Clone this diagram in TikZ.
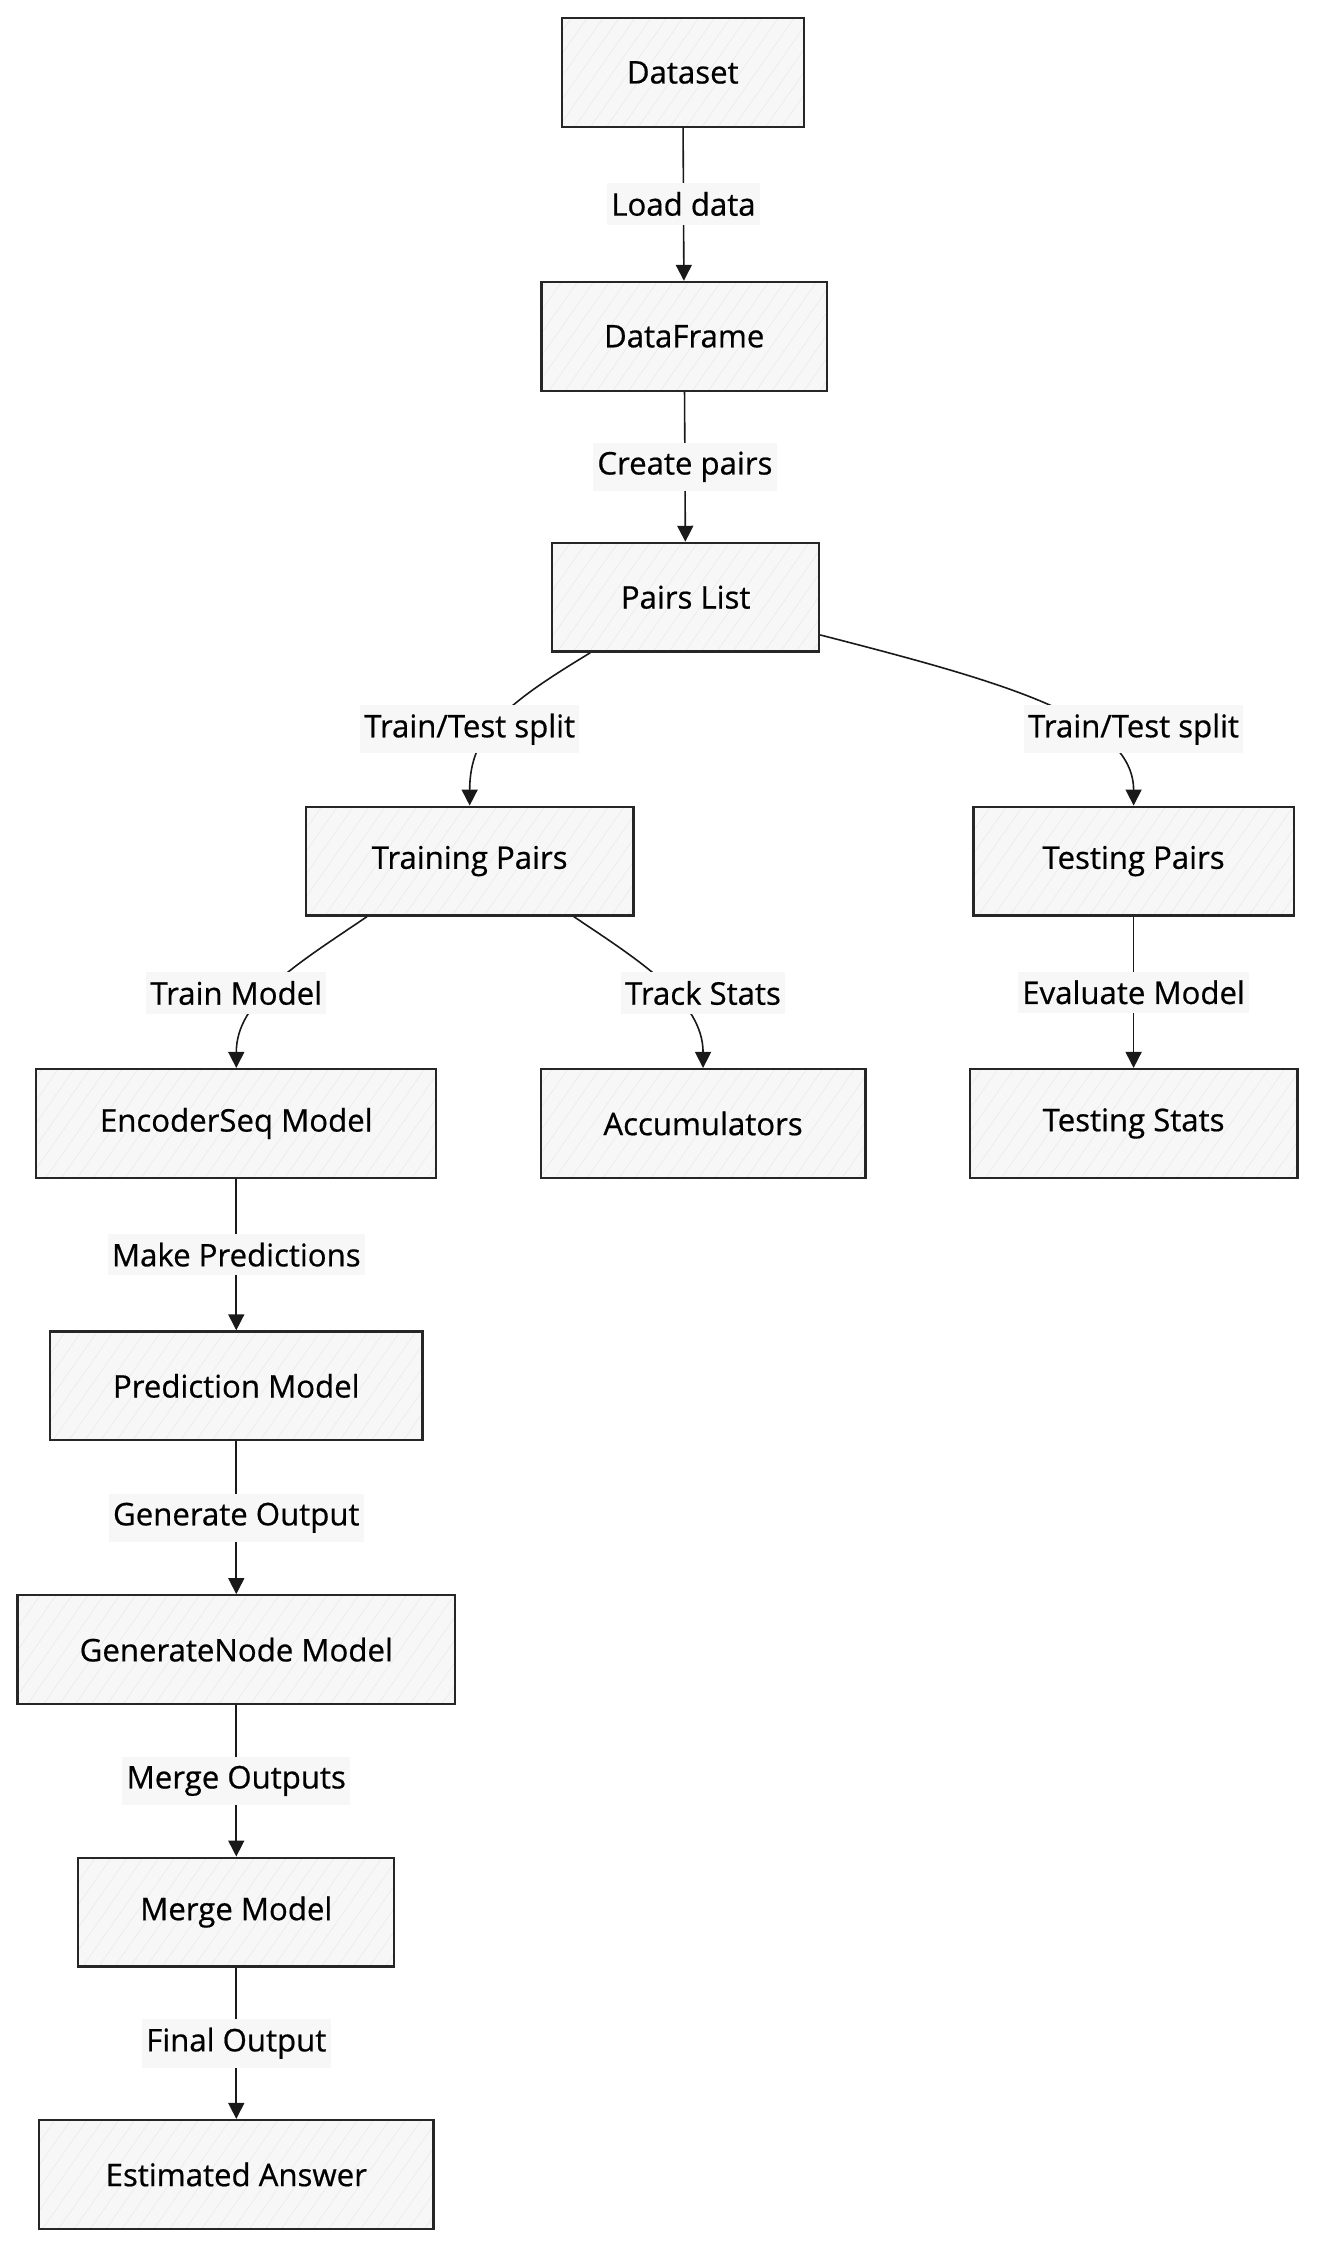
\documentclass[tikz,border=0pt]{standalone}
\usepackage{fontspec}
\setmainfont[FakeBold=0.6]{Open Sans}
\usetikzlibrary{arrows.meta,patterns.meta}
\begin{document}
\begin{tikzpicture}[x=1pt,y=-1pt,
 box/.style={draw=black!85, line width=1.6pt, preaction={fill=black!3},
   pattern={Lines[angle=55,distance=9pt,line width=0.35pt]}, pattern color=black!9,
   minimum height=75pt, inner sep=0pt, font=\fontsize{21.5}{24}\selectfont},
 lbl/.style={fill=black!3, inner xsep=3pt, inner ysep=6pt, font=\fontsize{21.5}{24}\selectfont},
 conn/.style={draw=black!90, line width=1.1pt, -{Triangle[length=11pt,width=11pt]}},
]
\useasboundingbox (0,0) rectangle (908,1548);
% nodes
\node[box, minimum width=167pt] (ds) at (471,50) {Dataset};
\node[box, minimum width=197pt] (df) at (472,232) {DataFrame};
\node[box, minimum width=184pt] (pl) at (473,412) {Pairs List};
\node[box, minimum width=226pt] (trp) at (324,594) {Training Pairs};
\node[box, minimum width=221pt] (tsp) at (782,594) {Testing Pairs};
\node[box, minimum width=276pt] (enc) at (163,775) {EncoderSeq Model};
\node[box, minimum width=224pt] (acc) at (485,775) {Accumulators};
\node[box, minimum width=226pt] (tst) at (782,775) {Testing Stats};
\node[box, minimum width=257pt] (pred) at (163,956) {Prediction Model};
\node[box, minimum width=302pt] (gen) at (163,1138) {GenerateNode Model};
\node[box, minimum width=218pt] (mrg) at (163,1319) {Merge Model};
\node[box, minimum width=272pt] (est) at (163,1500) {Estimated Answer};
% straight connectors
\draw[conn] (ds) -- node[lbl] {Load data} (df);
\draw[conn] (df) -- node[lbl] {Create pairs} (pl);
\draw[conn] (tsp) -- node[lbl] {Evaluate Model} (tst);
\draw[conn] (enc) -- node[lbl] {Make Predictions} (pred);
\draw[conn] (pred) -- node[lbl] {Generate Output} (gen);
\draw[conn] (gen) -- node[lbl] {Merge Outputs} (mrg);
\draw[conn] (mrg) -- node[lbl] {Final Output} (est);
% curved connectors
\draw[conn] ([xshift=27pt]pl.south west) .. controls (350,485) and (324,505) .. (trp.north);
\draw[conn] ([yshift=-26pt]pl.east) .. controls (690,470) and (782,495) .. (tsp.north);
\draw[conn] ([xshift=43pt]trp.south west) .. controls (205,665) and (163,690) .. (enc.north);
\draw[conn] ([xshift=-42pt]trp.south east) .. controls (440,662) and (485,690) .. (acc.north);
% labels on curved connectors
\node[lbl] (l1) at (324,503) {Train/Test split};
\node[lbl] (l2) at (782,503) {Train/Test split};
\node[lbl] (l3) at (163,685) {Train Model};
\node[lbl] (l4) at (485,685) {Track Stats};
\end{tikzpicture}
\end{document}
